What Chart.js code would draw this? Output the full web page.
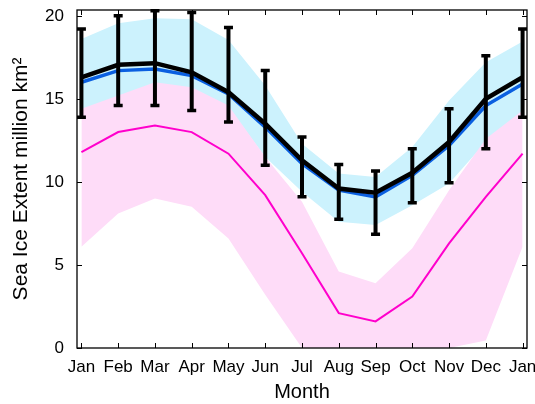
<!DOCTYPE html>
<html>
<head>
<meta charset="utf-8">
<script src="https://cdn.jsdelivr.net/npm/chart.js@4"></script>
<style>
  body { margin: 0; background: #fff; }
  #wrap { width: 535px; height: 404px; }
</style>
</head>
<body>
<div id="wrap"><canvas id="myChart" width="535" height="404"></canvas></div>
<script>
// eixo x: meses (Jan .. Jan)
const months = ['Jan', 'Feb', 'Mar', 'Apr', 'May', 'Jun', 'Jul', 'Aug', 'Sep', 'Oct', 'Nov', 'Dec', 'Jan'];
const yTicks = [0, 5, 10, 15, 20];

// linha preta com barras de erro
const meanObs = [16.3, 17.05, 17.15, 16.6, 15.4, 13.5, 11.3, 9.6, 9.35, 10.55, 12.4, 15.0, 16.3];
const errTop = [19.2, 20.0, 20.3, 20.2, 19.3, 16.7, 12.7, 11.05, 10.65, 12.0, 14.4, 17.6, 19.2];
const errBottom = [13.9, 14.6, 14.6, 14.3, 13.6, 11.0, 9.1, 7.75, 6.85, 8.75, 9.95, 12.0, 13.9];

// linha azul + faixa azul clara
const blueLine = [16.0, 16.7, 16.8, 16.4, 15.3, 13.3, 11.1, 9.5, 9.1, 10.4, 12.2, 14.6, 15.9];
const blueUpper = [18.6, 19.55, 19.85, 19.8, 18.55, 15.8, 12.3, 10.5, 10.3, 12.1, 14.9, 17.2, 18.45];
const blueLower = [14.3, 15.1, 15.9, 15.6, 14.5, 11.5, 9.4, 7.6, 7.4, 8.6, 9.9, 12.4, 14.2];

// linha magenta + faixa rosa
const pinkLine = [11.8, 13.0, 13.4, 13.0, 11.7, 9.2, 5.7, 2.1, 1.6, 3.1, 6.3, 9.1, 11.7];
const pinkUpper = [14.4, 15.2, 16.0, 15.7, 14.6, 11.5, 8.8, 4.6, 3.9, 6.0, 9.5, 12.6, 14.3];
const pinkLower = [6.1, 8.1, 9.0, 8.5, 6.6, 3.2, 0, 0, 0, 0, 0, 0.45, 6.1];

const pts = arr => arr.map((v, i) => ({ x: i, y: v }));

const FONT = 'Liberation Sans, Arial, Helvetica, sans-serif';

// barras de erro desenhadas pelas escalas do grafico
const errorBars = {
    id: 'errorBars',
    afterDatasetsDraw(chart) {
        const { ctx, scales: { x, y }, chartArea } = chart;
        ctx.save();
        ctx.beginPath();
        ctx.rect(chartArea.left, chartArea.top - 2, chartArea.right - chartArea.left, chartArea.bottom - chartArea.top + 2);
        ctx.clip();
        ctx.strokeStyle = '#000';
        errTop.forEach((top, i) => {
            const px = x.getPixelForValue(i);
            const yt = y.getPixelForValue(top);
            const yb = y.getPixelForValue(errBottom[i]);
            ctx.lineWidth = 4;
            ctx.beginPath();
            ctx.moveTo(px, yt);
            ctx.lineTo(px, yb);
            ctx.stroke();
            ctx.lineWidth = 3.5;
            ctx.beginPath();
            ctx.moveTo(px - 4.5, yt);
            ctx.lineTo(px + 4.5, yt);
            ctx.moveTo(px - 4.5, yb);
            ctx.lineTo(px + 4.5, yb);
            ctx.stroke();
        });
        ctx.restore();
    }
};

// moldura com ticks para dentro (estilo matlab)
const frameBox = {
    id: 'frameBox',
    afterDraw(chart) {
        const { ctx, scales: { x, y }, chartArea: a } = chart;
        ctx.save();
        ctx.strokeStyle = '#000';
        ctx.lineWidth = 1.3;
        ctx.strokeRect(a.left, a.top, a.right - a.left, a.bottom - a.top);
        ctx.lineWidth = 1;
        ctx.beginPath();
        months.forEach((m, i) => {
            const px = Math.round(x.getPixelForValue(i)) + 0.5;
            ctx.moveTo(px, a.bottom);
            ctx.lineTo(px, a.bottom - 5);
            ctx.moveTo(px, a.top);
            ctx.lineTo(px, a.top + 5);
        });
        yTicks.forEach(v => {
            const py = Math.round(y.getPixelForValue(v)) + 0.5;
            ctx.moveTo(a.left, py);
            ctx.lineTo(a.left + 5, py);
            ctx.moveTo(a.right, py);
            ctx.lineTo(a.right - 5, py);
        });
        ctx.stroke();
        ctx.restore();
    }
};

const line = (data, opts) => Object.assign({
    data: pts(data),
    pointRadius: 0,
    tension: 0,
    borderWidth: 0,
    fill: false
}, opts);

const data = {
    datasets: [
        line(blueUpper, { label: 'blueUpper', fill: '+1', backgroundColor: '#ccf2fd', borderColor: 'rgba(0,0,0,0)', order: 10 }),
        line(blueLower, { label: 'blueLower', borderColor: 'rgba(0,0,0,0)', order: 9 }),
        line(pinkUpper, { label: 'pinkUpper', fill: '+1', backgroundColor: '#fedcf8', borderColor: 'rgba(0,0,0,0)', order: 8 }),
        line(pinkLower, { label: 'pinkLower', borderColor: 'rgba(0,0,0,0)', order: 7 }),
        line(pinkLine, { label: 'pinkLine', borderColor: '#ff00cc', borderWidth: 2, order: 3 }),
        line(blueLine, { label: 'blueLine', borderColor: '#0a5fe0', borderWidth: 3.5, order: 2 }),
        line(meanObs, { label: 'meanObs', borderColor: '#000', borderWidth: 4.5, order: 1 })
    ]
};

const options = {
    responsive: false,
    animation: false,
    layout: { padding: { left: 0, top: 10, right: 8, bottom: 0 } },
    plugins: {
        legend: { display: false },
        tooltip: { enabled: false }
    },
    scales: {
        x: {
            type: 'linear',
            min: -0.12,
            max: 12.12,
            grid: { display: false, drawTicks: false },
            border: { display: false },
            afterBuildTicks: scale => { scale.ticks = months.map((m, i) => ({ value: i })); },
            afterFit: scale => { scale.height = 56; scale.paddingLeft = 0; scale.paddingRight = 0; },
            ticks: {
                autoSkip: false,
                maxRotation: 0,
                padding: 9,
                color: '#000',
                font: { family: FONT, size: 17 },
                callback: (v, i) => months[i]
            },
            title: {
                display: true,
                text: 'Month',
                color: '#000',
                font: { family: FONT, size: 20 },
                padding: { top: 0, bottom: 0 }
            }
        },
        y: {
            min: 0,
            max: 20.35,
            grid: { display: false, drawTicks: false },
            border: { display: false },
            afterBuildTicks: scale => { scale.ticks = yTicks.map(v => ({ value: v })); },
            afterFit: scale => { scale.width = 77; scale.paddingTop = 0; scale.paddingBottom = 0; },
            ticks: {
                padding: 13,
                color: '#000',
                font: { family: FONT, size: 17 }
            },
            title: {
                display: true,
                text: 'Sea Ice Extent million km²',
                color: '#000',
                font: { family: FONT, size: 21 },
                padding: { top: 9, bottom: 0 }
            }
        }
    }
};

const myChart = new Chart(document.getElementById('myChart').getContext('2d'), {
    type: 'line',
    data: data,
    options: options,
    plugins: [errorBars, frameBox]
});
</script>
</body>
</html>
